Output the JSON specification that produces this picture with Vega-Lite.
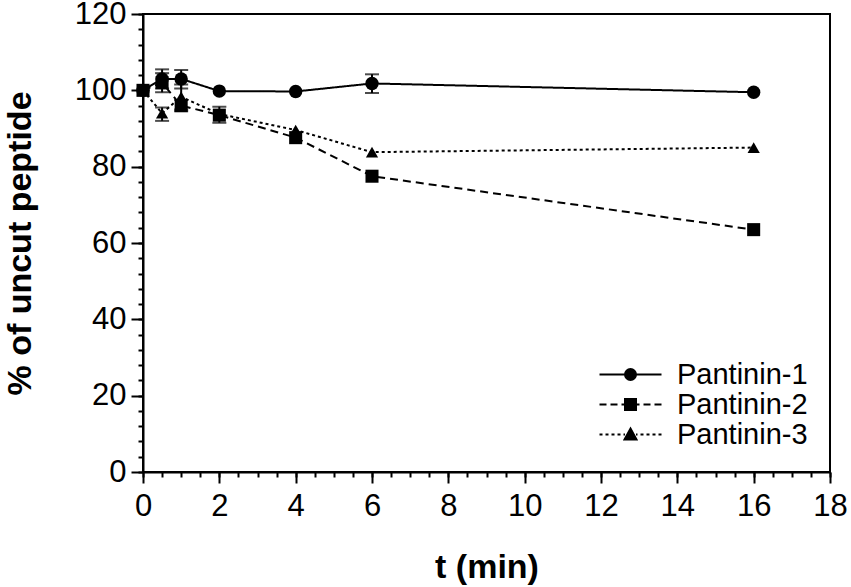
{
  "$schema": "https://vega.github.io/schema/vega-lite/v6.json",
  "width": 687,
  "height": 458,
  "autosize": {"type": "none"},
  "padding": {"left": 143, "top": 14, "right": 21, "bottom": 115},
  "background": "white",
  "config": {
    "view": {"stroke": "black", "strokeWidth": 2},
    "font": "Liberation Sans",
    "axis": {
      "labelFontSize": 31,
      "labelColor": "black",
      "titleFontSize": 34,
      "titleFontWeight": "bold",
      "titleColor": "black",
      "tickColor": "black",
      "tickWidth": 2,
      "domainColor": "black",
      "domainWidth": 2,
      "grid": false,
      "labelOverlap": false,
      "labelFlush": false
    }
  },
  "data": {
    "values": [
      {"series": "Pantinin-1", "t": 0, "v": 100},
      {"series": "Pantinin-1", "t": 0.5, "v": 103, "lo": 100.5, "hi": 105.5},
      {"series": "Pantinin-1", "t": 1, "v": 103, "lo": 100.5, "hi": 105.3},
      {"series": "Pantinin-1", "t": 2, "v": 99.8},
      {"series": "Pantinin-1", "t": 4, "v": 99.7},
      {"series": "Pantinin-1", "t": 6, "v": 101.8, "lo": 99.3, "hi": 104.2},
      {"series": "Pantinin-1", "t": 16, "v": 99.5},
      {"series": "Pantinin-2", "t": 0, "v": 100},
      {"series": "Pantinin-2", "t": 0.5, "v": 102, "lo": 99.5, "hi": 104.5},
      {"series": "Pantinin-2", "t": 1, "v": 96, "lo": 94.5, "hi": 97.5},
      {"series": "Pantinin-2", "t": 2, "v": 93.5, "lo": 91.5, "hi": 95.7},
      {"series": "Pantinin-2", "t": 4, "v": 87.6},
      {"series": "Pantinin-2", "t": 6, "v": 77.5},
      {"series": "Pantinin-2", "t": 16, "v": 63.5},
      {"series": "Pantinin-3", "t": 0, "v": 100},
      {"series": "Pantinin-3", "t": 0.5, "v": 94, "lo": 92, "hi": 95.5},
      {"series": "Pantinin-3", "t": 1, "v": 98.3, "lo": 95, "hi": 101.5},
      {"series": "Pantinin-3", "t": 2, "v": 93.8},
      {"series": "Pantinin-3", "t": 4, "v": 89.6},
      {"series": "Pantinin-3", "t": 6, "v": 83.8},
      {"series": "Pantinin-3", "t": 16, "v": 85}
    ]
  },
  "layer": [
    {
      "mark": {"type": "line", "color": "black", "strokeWidth": 2},
      "encoding": {
        "x": {
          "field": "t",
          "type": "quantitative",
          "scale": {"domain": [0, 18], "nice": false},
          "axis": {
            "orient": "bottom",
            "title": "t (min)",
            "titlePadding": 29,
            "values": [0, 2, 4, 6, 8, 10, 12, 14, 16, 18],
            "format": "d",
            "labelPadding": 8,
            "tickSize": 11
          }
        },
        "y": {
          "field": "v",
          "type": "quantitative",
          "scale": {"domain": [0, 120], "nice": false},
          "axis": {
            "orient": "left",
            "title": "% of uncut peptide",
            "titlePadding": 37,
            "values": [0, 20, 40, 60, 80, 100, 120],
            "labelPadding": 5,
            "tickSize": 12
          }
        },
        "strokeDash": {
          "field": "series",
          "type": "nominal",
          "scale": {"range": [[1, 0], [8, 5], [3, 3]]},
          "legend": null
        }
      }
    },
    {
      "transform": [{"filter": "datum.series === 'Pantinin-1'"}],
      "mark": {"type": "point", "shape": "circle", "filled": true, "color": "black", "opacity": 1, "size": 180},
      "encoding": {
        "x": {"field": "t", "type": "quantitative", "axis": null},
        "y": {"field": "v", "type": "quantitative", "axis": null}
      }
    },
    {
      "transform": [{"filter": "datum.series === 'Pantinin-2'"}],
      "mark": {"type": "point", "shape": "square", "filled": true, "color": "black", "opacity": 1, "size": 170},
      "encoding": {
        "x": {"field": "t", "type": "quantitative", "axis": null},
        "y": {"field": "v", "type": "quantitative", "axis": null}
      }
    },
    {
      "transform": [{"filter": "datum.series === 'Pantinin-3'"}],
      "mark": {"type": "point", "shape": "triangle-up", "filled": true, "color": "black", "opacity": 1, "size": 150},
      "encoding": {
        "x": {"field": "t", "type": "quantitative", "axis": null},
        "y": {"field": "v", "type": "quantitative", "axis": null}
      }
    },
    {
      "transform": [{"filter": "isValid(datum.lo)"}],
      "mark": {
        "type": "errorbar",
        "ticks": {"size": 14, "thickness": 2, "color": "black"},
        "rule": {"strokeWidth": 2, "color": "black"}
      },
      "encoding": {
        "x": {"field": "t", "type": "quantitative", "axis": null},
        "y": {"field": "lo", "type": "quantitative", "axis": null},
        "y2": {"field": "hi"}
      }
    },
    {
      "transform": [{"filter": "false"}],
      "mark": {"type": "point", "filled": false, "fill": "black", "stroke": "black", "strokeWidth": 2, "opacity": 1},
      "encoding": {
        "x": {
          "field": "t",
          "type": "quantitative",
          "axis": {
            "orient": "bottom",
            "title": null,
            "labels": false,
            "domain": false,
            "values": [0, 0.5, 1, 1.5, 2, 2.5, 3, 3.5, 4, 4.5, 5, 5.5, 6, 6.5, 7, 7.5, 8, 8.5, 9, 9.5, 10, 10.5, 11, 11.5, 12, 12.5, 13, 13.5, 14, 14.5, 15, 15.5, 16, 16.5, 17, 17.5, 18],
            "tickSize": 5
          }
        },
        "y": {
          "field": "v",
          "type": "quantitative",
          "axis": {
            "orient": "left",
            "title": null,
            "labels": false,
            "domain": false,
            "values": [0, 4, 8, 12, 16, 20, 24, 28, 32, 36, 40, 44, 48, 52, 56, 60, 64, 68, 72, 76, 80, 84, 88, 92, 96, 100, 104, 108, 112, 116, 120],
            "tickSize": 5
          }
        },
        "shape": {
          "field": "series",
          "type": "nominal",
          "scale": {
            "domain": ["Pantinin-1", "Pantinin-2", "Pantinin-3"],
            "range": [
              "M-3.1,0H3.1M0.55,0A0.55,0.55 0 1 1 -0.55,0A0.55,0.55 0 1 1 0.55,0Z",
              "M-3.1,0H-2.4M-2,0H-1.3M-0.9,0H-0.55M0.55,0H0.9M1.3,0H2M2.4,0H3.1M-0.55,-0.55H0.55V0.55H-0.55Z",
              "M-3.1,0H-2.8M-2.5,0H-2.2M-1.9,0H-1.6M-1.3,0H-1M-0.7,0H-0.55M0.55,0H0.7M1,0H1.3M1.6,0H1.9M2.2,0H2.5M2.8,0H3.1M0,-0.6L0.6,0.5H-0.6Z"
            ]
          },
          "legend": {
            "title": null,
            "orient": "bottom-right",
            "offset": 22,
            "padding": 0,
            "symbolSize": 400,
            "symbolStrokeWidth": 2,
            "labelFontSize": 29,
            "labelColor": "black",
            "labelOffset": 32,
            "rowPadding": -2
          }
        }
      }
    }
  ],
  "resolve": {"axis": {"x": "independent", "y": "independent"}}
}
